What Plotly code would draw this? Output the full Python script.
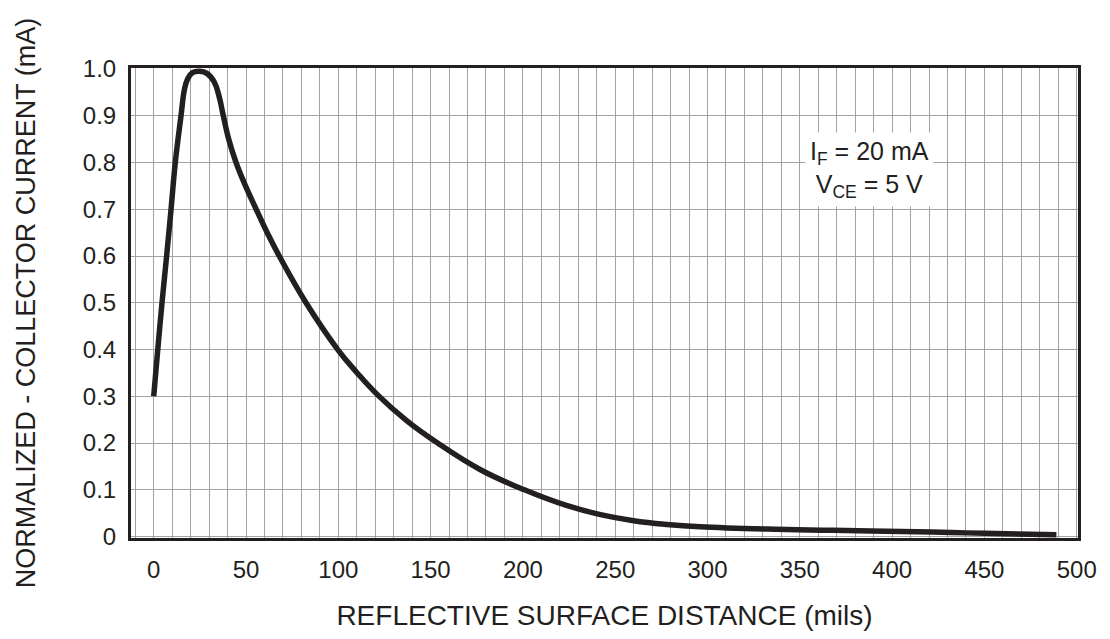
import plotly.graph_objects as go

# Data
distance_mils = [0, 2.2, 4.5, 7, 9.4, 11.7, 14.8, 16.6, 18.3, 21, 25, 29, 32.8, 35.5, 37.7,
                 40.6, 44.6, 49.5, 55.5, 61.7, 68, 82.5, 99.7, 110, 121.3, 137, 153.8, 177, 200.8, 224, 242,
                 260, 278, 296, 332, 368, 405, 432, 450, 489]
norm_current = [0.30, 0.40, 0.50, 0.60, 0.70, 0.80, 0.90, 0.955, 0.978, 0.992, 0.995, 0.99, 0.972, 0.94, 0.90,
                0.85, 0.80, 0.752, 0.70, 0.648, 0.60, 0.50, 0.40, 0.351, 0.303, 0.248, 0.20, 0.143, 0.10, 0.066, 0.047,
                0.034, 0.026, 0.021, 0.016, 0.0135, 0.011, 0.0088, 0.007, 0.004]

x_ticks = [0, 50, 100, 150, 200, 250, 300, 350, 400, 450, 500]
y_ticks = [0, 0.1, 0.2, 0.3, 0.4, 0.5, 0.6, 0.7, 0.8, 0.9, 1.0]
y_tick_text = ["0", "0.1", "0.2", "0.3", "0.4", "0.5", "0.6", "0.7", "0.8", "0.9", "1.0"]

FONT = "Liberation Sans, Arial, Helvetica, sans-serif"
TXT = "#231f20"

fig = go.Figure()
fig.add_trace(go.Scatter(
    x=distance_mils, y=norm_current, mode="lines",
    line=dict(color="#231f20", width=5.5, shape="spline", smoothing=1.2),
    showlegend=False, hoverinfo="skip"))

fig.add_annotation(
    x=388, y=0.786, xref="x", yref="y",
    text="I<sub>F</sub> = 20 mA<br>V<sub>CE</sub> = 5 V",
    showarrow=False, align="center",
    font=dict(family=FONT, size=25, color=TXT),
    bgcolor="white", borderpad=4)

fig.update_layout(
    width=1110, height=639,
    margin=dict(l=123, r=40, t=60, b=109),
    paper_bgcolor="white", plot_bgcolor="white",
    font=dict(family=FONT, size=24, color=TXT),
    xaxis=dict(
        range=[-12.3, 500.7], tickvals=x_ticks,
        showgrid=True, gridcolor="#a3a3a3", gridwidth=1,
        minor=dict(dtick=10, tick0=0, showgrid=True, gridcolor="#a3a3a3", gridwidth=1),
        showline=True, linecolor="#231f20", linewidth=3, mirror=True,
        zeroline=False, ticks="", ticklabelstandoff=8,
        tickfont=dict(family=FONT, size=24, color=TXT),
        title=dict(text="REFLECTIVE SURFACE DISTANCE (mils)", standoff=24,
                   font=dict(family=FONT, size=28, color=TXT)),
    ),
    yaxis=dict(
        range=[-0.003, 1.002], tickvals=y_ticks, ticktext=y_tick_text,
        showgrid=True, gridcolor="#a3a3a3", gridwidth=1,
        showline=True, linecolor="#231f20", linewidth=3, mirror=True,
        zeroline=False, ticks="", ticklabelstandoff=7,
        tickfont=dict(family=FONT, size=24, color=TXT),
        title=dict(text="NORMALIZED - COLLECTOR CURRENT (mA)", standoff=40,
                   font=dict(family=FONT, size=27, color=TXT)),
    ),
)

fig.write_html("out.html")
